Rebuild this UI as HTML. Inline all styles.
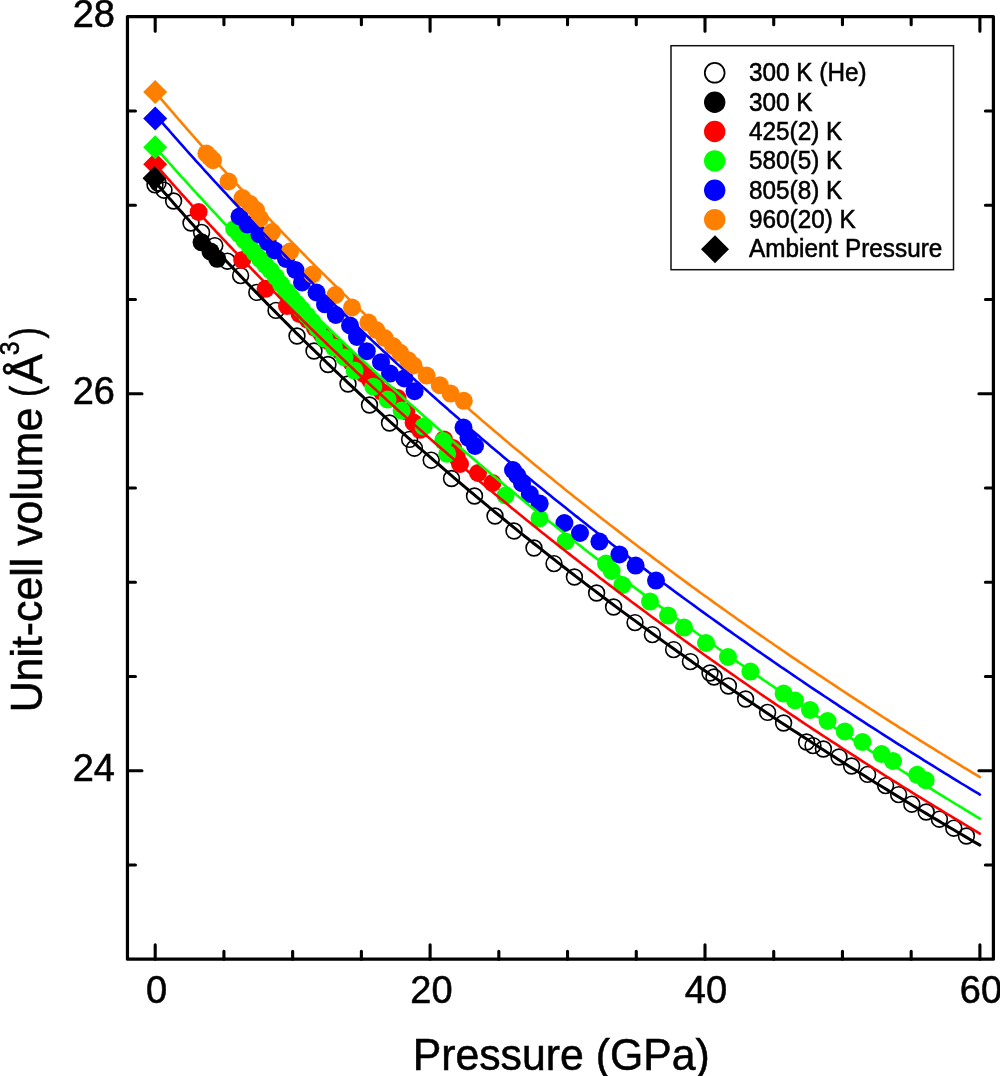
<!DOCTYPE html>
<html><head><meta charset="utf-8"><style>
html,body{margin:0;padding:0;background:#fff;}
svg{display:block;will-change:transform;}
text{font-family:"Liberation Sans",sans-serif;fill:#000;stroke:#000;stroke-width:0.55px;}
</style></head><body>
<svg width="1000" height="1076" viewBox="0 0 1000 1076">
<rect width="1000" height="1076" fill="#fff"/>
<g>
<circle cx="155" cy="184.8" r="7.9" fill="none" stroke="#000" stroke-width="1.6"/>
<circle cx="158" cy="183" r="7.9" fill="none" stroke="#000" stroke-width="1.6"/>
<circle cx="164" cy="190.2" r="7.9" fill="none" stroke="#000" stroke-width="1.6"/>
<circle cx="173.6" cy="201" r="7.9" fill="none" stroke="#000" stroke-width="1.6"/>
<circle cx="191" cy="223" r="7.9" fill="none" stroke="#000" stroke-width="1.6"/>
<circle cx="201.6" cy="232.4" r="7.9" fill="none" stroke="#000" stroke-width="1.6"/>
<circle cx="214.8" cy="245.6" r="7.9" fill="none" stroke="#000" stroke-width="1.6"/>
<circle cx="227.4" cy="261.2" r="7.9" fill="none" stroke="#000" stroke-width="1.6"/>
<circle cx="240.6" cy="275.6" r="7.9" fill="none" stroke="#000" stroke-width="1.6"/>
<circle cx="256.8" cy="292.4" r="7.9" fill="none" stroke="#000" stroke-width="1.6"/>
<circle cx="276" cy="310.4" r="7.9" fill="none" stroke="#000" stroke-width="1.6"/>
<circle cx="297" cy="336" r="7.9" fill="none" stroke="#000" stroke-width="1.6"/>
<circle cx="314" cy="351" r="7.9" fill="none" stroke="#000" stroke-width="1.6"/>
<circle cx="328" cy="364.5" r="7.9" fill="none" stroke="#000" stroke-width="1.6"/>
<circle cx="348" cy="384" r="7.9" fill="none" stroke="#000" stroke-width="1.6"/>
<circle cx="369.5" cy="405" r="7.9" fill="none" stroke="#000" stroke-width="1.6"/>
<circle cx="389.5" cy="423" r="7.9" fill="none" stroke="#000" stroke-width="1.6"/>
<circle cx="409.6" cy="439.4" r="7.9" fill="none" stroke="#000" stroke-width="1.6"/>
<circle cx="414.4" cy="448.2" r="7.9" fill="none" stroke="#000" stroke-width="1.6"/>
<circle cx="431.2" cy="460.2" r="7.9" fill="none" stroke="#000" stroke-width="1.6"/>
<circle cx="451.5" cy="478.5" r="7.9" fill="none" stroke="#000" stroke-width="1.6"/>
<circle cx="474.5" cy="496" r="7.9" fill="none" stroke="#000" stroke-width="1.6"/>
<circle cx="495" cy="516" r="7.9" fill="none" stroke="#000" stroke-width="1.6"/>
<circle cx="514" cy="531" r="7.9" fill="none" stroke="#000" stroke-width="1.6"/>
<circle cx="534" cy="548" r="7.9" fill="none" stroke="#000" stroke-width="1.6"/>
<circle cx="554" cy="563.6" r="7.9" fill="none" stroke="#000" stroke-width="1.6"/>
<circle cx="574.4" cy="577" r="7.9" fill="none" stroke="#000" stroke-width="1.6"/>
<circle cx="596.6" cy="593" r="7.9" fill="none" stroke="#000" stroke-width="1.6"/>
<circle cx="613.6" cy="607" r="7.9" fill="none" stroke="#000" stroke-width="1.6"/>
<circle cx="635" cy="622.6" r="7.9" fill="none" stroke="#000" stroke-width="1.6"/>
<circle cx="652.4" cy="634.6" r="7.9" fill="none" stroke="#000" stroke-width="1.6"/>
<circle cx="673.6" cy="649.6" r="7.9" fill="none" stroke="#000" stroke-width="1.6"/>
<circle cx="690.4" cy="661.6" r="7.9" fill="none" stroke="#000" stroke-width="1.6"/>
<circle cx="710" cy="673" r="7.9" fill="none" stroke="#000" stroke-width="1.6"/>
<circle cx="714" cy="677" r="7.9" fill="none" stroke="#000" stroke-width="1.6"/>
<circle cx="728.4" cy="686" r="7.9" fill="none" stroke="#000" stroke-width="1.6"/>
<circle cx="745.6" cy="699" r="7.9" fill="none" stroke="#000" stroke-width="1.6"/>
<circle cx="767.6" cy="712.4" r="7.9" fill="none" stroke="#000" stroke-width="1.6"/>
<circle cx="783.6" cy="723" r="7.9" fill="none" stroke="#000" stroke-width="1.6"/>
<circle cx="806.6" cy="742" r="7.9" fill="none" stroke="#000" stroke-width="1.6"/>
<circle cx="813" cy="745.6" r="7.9" fill="none" stroke="#000" stroke-width="1.6"/>
<circle cx="823.4" cy="749" r="7.9" fill="none" stroke="#000" stroke-width="1.6"/>
<circle cx="839" cy="757" r="7.9" fill="none" stroke="#000" stroke-width="1.6"/>
<circle cx="851.6" cy="766" r="7.9" fill="none" stroke="#000" stroke-width="1.6"/>
<circle cx="867.6" cy="774.4" r="7.9" fill="none" stroke="#000" stroke-width="1.6"/>
<circle cx="885.6" cy="785.6" r="7.9" fill="none" stroke="#000" stroke-width="1.6"/>
<circle cx="898.6" cy="794.6" r="7.9" fill="none" stroke="#000" stroke-width="1.6"/>
<circle cx="911.8" cy="804.2" r="7.9" fill="none" stroke="#000" stroke-width="1.6"/>
<circle cx="926.2" cy="812" r="7.9" fill="none" stroke="#000" stroke-width="1.6"/>
<circle cx="939.4" cy="819.2" r="7.9" fill="none" stroke="#000" stroke-width="1.6"/>
<circle cx="953.8" cy="828.2" r="7.9" fill="none" stroke="#000" stroke-width="1.6"/>
<circle cx="966.4" cy="836" r="7.9" fill="none" stroke="#000" stroke-width="1.6"/>
<circle cx="201.6" cy="242.3" r="9"/>
<circle cx="210.6" cy="251.6" r="9"/>
<circle cx="217.2" cy="258.8" r="9"/>
<circle cx="198.6" cy="212" r="9" fill="#f00"/>
<circle cx="242.2" cy="260" r="9" fill="#f00"/>
<circle cx="265.6" cy="288.8" r="9" fill="#f00"/>
<circle cx="287" cy="306" r="9" fill="#f00"/>
<circle cx="299.5" cy="314" r="9" fill="#f00"/>
<circle cx="308" cy="320" r="9" fill="#f00"/>
<circle cx="315" cy="328" r="9" fill="#f00"/>
<circle cx="321.5" cy="334" r="9" fill="#f00"/>
<circle cx="328" cy="341" r="9" fill="#f00"/>
<circle cx="334" cy="346" r="9" fill="#f00"/>
<circle cx="340" cy="351" r="9" fill="#f00"/>
<circle cx="346" cy="357" r="9" fill="#f00"/>
<circle cx="351" cy="362" r="9" fill="#f00"/>
<circle cx="358" cy="368" r="9" fill="#f00"/>
<circle cx="364" cy="374" r="9" fill="#f00"/>
<circle cx="370" cy="380" r="9" fill="#f00"/>
<circle cx="376" cy="385" r="9" fill="#f00"/>
<circle cx="382" cy="392" r="9" fill="#f00"/>
<circle cx="390" cy="395" r="9" fill="#f00"/>
<circle cx="397.6" cy="398" r="9" fill="#f00"/>
<circle cx="406.4" cy="411.4" r="9" fill="#f00"/>
<circle cx="413.6" cy="422.6" r="9" fill="#f00"/>
<circle cx="420" cy="429.8" r="9" fill="#f00"/>
<circle cx="444" cy="439.4" r="9" fill="#f00"/>
<circle cx="453" cy="448" r="9" fill="#f00"/>
<circle cx="456.8" cy="457" r="9" fill="#f00"/>
<circle cx="460" cy="464" r="9" fill="#f00"/>
<circle cx="478" cy="473" r="9" fill="#f00"/>
<circle cx="492.5" cy="483" r="9" fill="#f00"/>
<circle cx="234.2" cy="229.0" r="9" fill="#0f0"/>
<circle cx="239.4" cy="234.4" r="9" fill="#0f0"/>
<circle cx="244.6" cy="240.5" r="9" fill="#0f0"/>
<circle cx="249.8" cy="246.8" r="9" fill="#0f0"/>
<circle cx="255.0" cy="253.0" r="9" fill="#0f0"/>
<circle cx="260.2" cy="259.2" r="9" fill="#0f0"/>
<circle cx="265.4" cy="264.8" r="9" fill="#0f0"/>
<circle cx="270.6" cy="270.4" r="9" fill="#0f0"/>
<circle cx="275.8" cy="276.9" r="9" fill="#0f0"/>
<circle cx="281.0" cy="284.1" r="9" fill="#0f0"/>
<circle cx="286.2" cy="291.2" r="9" fill="#0f0"/>
<circle cx="291.4" cy="297.3" r="9" fill="#0f0"/>
<circle cx="296.6" cy="303.4" r="9" fill="#0f0"/>
<circle cx="301.8" cy="309.4" r="9" fill="#0f0"/>
<circle cx="307.0" cy="315.4" r="9" fill="#0f0"/>
<circle cx="312.2" cy="321.6" r="9" fill="#0f0"/>
<circle cx="317.4" cy="328.5" r="9" fill="#0f0"/>
<circle cx="324.4" cy="338.6" r="9" fill="#0f0"/>
<circle cx="334" cy="347.6" r="9" fill="#0f0"/>
<circle cx="344.5" cy="357.5" r="9" fill="#0f0"/>
<circle cx="354.6" cy="370.6" r="9" fill="#0f0"/>
<circle cx="373.3" cy="386.7" r="9" fill="#0f0"/>
<circle cx="387.6" cy="399.6" r="9" fill="#0f0"/>
<circle cx="401.6" cy="410.6" r="9" fill="#0f0"/>
<circle cx="423.6" cy="426.6" r="9" fill="#0f0"/>
<circle cx="443.2" cy="441" r="9" fill="#0f0"/>
<circle cx="447.2" cy="453.8" r="9" fill="#0f0"/>
<circle cx="505.5" cy="495.5" r="9" fill="#0f0"/>
<circle cx="539.5" cy="518.5" r="9" fill="#0f0"/>
<circle cx="565.6" cy="541.4" r="9" fill="#0f0"/>
<circle cx="606" cy="563.6" r="9" fill="#0f0"/>
<circle cx="611.6" cy="571" r="9" fill="#0f0"/>
<circle cx="622.4" cy="585" r="9" fill="#0f0"/>
<circle cx="650" cy="601.6" r="9" fill="#0f0"/>
<circle cx="668" cy="615.6" r="9" fill="#0f0"/>
<circle cx="684" cy="627.6" r="9" fill="#0f0"/>
<circle cx="706" cy="643" r="9" fill="#0f0"/>
<circle cx="728" cy="657" r="9" fill="#0f0"/>
<circle cx="750.4" cy="671.6" r="9" fill="#0f0"/>
<circle cx="783.6" cy="693.6" r="9" fill="#0f0"/>
<circle cx="795" cy="700.4" r="9" fill="#0f0"/>
<circle cx="810" cy="710" r="9" fill="#0f0"/>
<circle cx="827.6" cy="721" r="9" fill="#0f0"/>
<circle cx="844.8" cy="731.4" r="9" fill="#0f0"/>
<circle cx="862.4" cy="742" r="9" fill="#0f0"/>
<circle cx="881.6" cy="754" r="9" fill="#0f0"/>
<circle cx="893" cy="761" r="9" fill="#0f0"/>
<circle cx="917.2" cy="774.8" r="9" fill="#0f0"/>
<circle cx="925.6" cy="780.2" r="9" fill="#0f0"/>
<circle cx="239.5" cy="216.5" r="9" fill="#00f"/>
<circle cx="247.5" cy="224.6" r="9" fill="#00f"/>
<circle cx="259.4" cy="234.4" r="9" fill="#00f"/>
<circle cx="267.8" cy="242.1" r="9" fill="#00f"/>
<circle cx="274.8" cy="250.5" r="9" fill="#00f"/>
<circle cx="286" cy="259" r="9" fill="#00f"/>
<circle cx="295.5" cy="270" r="9" fill="#00f"/>
<circle cx="302" cy="282.5" r="9" fill="#00f"/>
<circle cx="316.5" cy="292.5" r="9" fill="#00f"/>
<circle cx="325" cy="304.3" r="9" fill="#00f"/>
<circle cx="335.8" cy="315" r="9" fill="#00f"/>
<circle cx="350" cy="325.5" r="9" fill="#00f"/>
<circle cx="357" cy="337" r="9" fill="#00f"/>
<circle cx="366.8" cy="351.2" r="9" fill="#00f"/>
<circle cx="381" cy="362.2" r="9" fill="#00f"/>
<circle cx="390" cy="373.6" r="9" fill="#00f"/>
<circle cx="404.4" cy="378.4" r="9" fill="#00f"/>
<circle cx="414.6" cy="391.2" r="9" fill="#00f"/>
<circle cx="463.5" cy="427.5" r="9" fill="#00f"/>
<circle cx="468.5" cy="438" r="9" fill="#00f"/>
<circle cx="475" cy="446" r="9" fill="#00f"/>
<circle cx="513" cy="470" r="9" fill="#00f"/>
<circle cx="517.2" cy="475.4" r="9" fill="#00f"/>
<circle cx="522" cy="483.2" r="9" fill="#00f"/>
<circle cx="529.8" cy="494" r="9" fill="#00f"/>
<circle cx="539.7" cy="503.6" r="9" fill="#00f"/>
<circle cx="564.4" cy="523" r="9" fill="#00f"/>
<circle cx="580" cy="533" r="9" fill="#00f"/>
<circle cx="599.4" cy="541.6" r="9" fill="#00f"/>
<circle cx="619.4" cy="554.4" r="9" fill="#00f"/>
<circle cx="635.6" cy="565.6" r="9" fill="#00f"/>
<circle cx="656" cy="580.6" r="9" fill="#00f"/>
<circle cx="206.4" cy="153.6" r="9" fill="#ff7f00"/>
<circle cx="209.7" cy="156.9" r="9" fill="#ff7f00"/>
<circle cx="213" cy="160.2" r="9" fill="#ff7f00"/>
<circle cx="228.5" cy="181.5" r="9" fill="#ff7f00"/>
<circle cx="242.5" cy="198" r="9" fill="#ff7f00"/>
<circle cx="250" cy="204" r="9" fill="#ff7f00"/>
<circle cx="256" cy="210" r="9" fill="#ff7f00"/>
<circle cx="260" cy="218.5" r="9" fill="#ff7f00"/>
<circle cx="272" cy="232" r="9" fill="#ff7f00"/>
<circle cx="290" cy="251.5" r="9" fill="#ff7f00"/>
<circle cx="312.5" cy="274.5" r="9" fill="#ff7f00"/>
<circle cx="335.5" cy="295" r="9" fill="#ff7f00"/>
<circle cx="352" cy="307.5" r="9" fill="#ff7f00"/>
<circle cx="368.4" cy="322.6" r="9" fill="#ff7f00"/>
<circle cx="376.2" cy="330.0" r="9" fill="#ff7f00"/>
<circle cx="384.6" cy="338.0" r="9" fill="#ff7f00"/>
<circle cx="393" cy="346.0" r="9" fill="#ff7f00"/>
<circle cx="400.2" cy="352.8" r="9" fill="#ff7f00"/>
<circle cx="408" cy="360.2" r="9" fill="#ff7f00"/>
<circle cx="413.4" cy="365.4" r="9" fill="#ff7f00"/>
<circle cx="426.6" cy="375.6" r="9" fill="#ff7f00"/>
<circle cx="439.8" cy="385.2" r="9" fill="#ff7f00"/>
<circle cx="450.6" cy="393.6" r="9" fill="#ff7f00"/>
<circle cx="463.8" cy="400.8" r="9" fill="#ff7f00"/>
<path d="M155.2,152.2L167.2,164.2L155.2,176.2L143.2,164.2Z" fill="#ff0000"/>
<path d="M155.2,135.2L167.2,147.2L155.2,159.2L143.2,147.2Z" fill="#00ff00"/>
<path d="M155.2,106.6L167.2,118.6L155.2,130.6L143.2,118.6Z" fill="#0000ff"/>
<path d="M155.2,80.0L167.2,92.0L155.2,104.0L143.2,92.0Z" fill="#ff7f00"/>
<path d="M154.5,166.2L166.5,178.2L154.5,190.2L142.5,178.2Z" fill="#000000"/>
</g>
<g fill="none" stroke-linejoin="round" stroke-linecap="round">
<path d="M155.2,182.1 L157.2,184.4 L159.3,186.8 L161.3,189.1 L163.4,191.5 L165.4,193.8 L167.5,196.1 L169.5,198.5 L171.6,200.8 L173.7,203.2 L175.7,205.5 L177.8,207.9 L179.9,210.2 L182.0,212.6 L184.1,214.9 L186.2,217.3 L188.3,219.6 L190.4,222.0 L192.5,224.3 L194.7,226.7 L196.8,229.0 L198.9,231.3 L201.1,233.7 L203.2,236.0 L205.3,238.4 L207.5,240.7 L209.7,243.1 L211.8,245.4 L214.0,247.8 L216.2,250.1 L218.3,252.5 L220.5,254.8 L222.7,257.2 L224.9,259.5 L227.1,261.9 L229.3,264.2 L231.5,266.6 L233.7,268.9 L236.0,271.2 L238.2,273.6 L240.4,275.9 L242.7,278.3 L244.9,280.6 L247.1,283.0 L249.4,285.3 L251.7,287.7 L253.9,290.0 L256.2,292.4 L258.5,294.7 L260.8,297.1 L263.0,299.4 L265.3,301.8 L267.6,304.1 L269.9,306.5 L272.2,308.8 L274.6,311.1 L276.9,313.5 L279.2,315.8 L281.5,318.2 L283.9,320.5 L286.2,322.9 L288.6,325.2 L290.9,327.6 L293.3,329.9 L295.6,332.3 L298.0,334.6 L300.4,337.0 L302.8,339.3 L305.2,341.7 L307.5,344.0 L309.9,346.3 L312.4,348.7 L314.8,351.0 L317.2,353.4 L319.6,355.7 L322.0,358.1 L324.5,360.4 L326.9,362.8 L329.4,365.1 L331.8,367.5 L334.3,369.8 L336.7,372.2 L339.2,374.5 L341.7,376.9 L344.2,379.2 L346.7,381.6 L349.1,383.9 L351.6,386.2 L354.2,388.6 L356.7,390.9 L359.2,393.3 L361.7,395.6 L364.2,398.0 L366.8,400.3 L369.3,402.7 L371.9,405.0 L374.4,407.4 L377.0,409.7 L379.6,412.1 L382.1,414.4 L384.7,416.8 L387.3,419.1 L389.9,421.5 L392.5,423.8 L395.1,426.1 L397.7,428.5 L400.3,430.8 L403.0,433.2 L405.6,435.5 L408.2,437.9 L410.9,440.2 L413.5,442.6 L416.2,444.9 L418.8,447.3 L421.5,449.6 L424.2,452.0 L426.9,454.3 L429.6,456.7 L432.3,459.0 L435.0,461.3 L437.7,463.7 L440.4,466.0 L443.1,468.4 L445.8,470.7 L448.6,473.1 L451.3,475.4 L454.1,477.8 L456.8,480.1 L459.6,482.5 L462.4,484.8 L465.1,487.2 L467.9,489.5 L470.7,491.9 L473.5,494.2 L476.3,496.6 L479.1,498.9 L481.9,501.2 L484.8,503.6 L487.6,505.9 L490.4,508.3 L493.3,510.6 L496.1,513.0 L499.0,515.3 L501.9,517.7 L504.7,520.0 L507.6,522.4 L510.5,524.7 L513.4,527.1 L516.3,529.4 L519.2,531.8 L522.1,534.1 L525.0,536.5 L528.0,538.8 L530.9,541.1 L533.8,543.5 L536.8,545.8 L539.8,548.2 L542.7,550.5 L545.7,552.9 L548.7,555.2 L551.7,557.6 L554.7,559.9 L557.7,562.3 L560.7,564.6 L563.7,567.0 L566.7,569.3 L569.7,571.7 L572.8,574.0 L575.8,576.4 L578.9,578.7 L582.0,581.0 L585.0,583.4 L588.1,585.7 L591.2,588.1 L594.3,590.4 L597.4,592.8 L600.5,595.1 L603.6,597.5 L606.7,599.8 L609.9,602.2 L613.0,604.5 L616.1,606.9 L619.3,609.2 L622.5,611.6 L625.6,613.9 L628.8,616.2 L632.0,618.6 L635.2,620.9 L638.4,623.3 L641.6,625.6 L644.8,628.0 L648.0,630.3 L651.3,632.7 L654.5,635.0 L657.8,637.4 L661.0,639.7 L664.3,642.1 L667.6,644.4 L670.8,646.8 L674.1,649.1 L677.4,651.5 L680.7,653.8 L684.0,656.1 L687.4,658.5 L690.7,660.8 L694.0,663.2 L697.4,665.5 L700.7,667.9 L704.1,670.2 L707.5,672.6 L710.9,674.9 L714.2,677.3 L717.6,679.6 L721.0,682.0 L724.5,684.3 L727.9,686.7 L731.3,689.0 L734.8,691.4 L738.2,693.7 L741.7,696.0 L745.1,698.4 L748.6,700.7 L752.1,703.1 L755.6,705.4 L759.1,707.8 L762.6,710.1 L766.1,712.5 L769.6,714.8 L773.2,717.2 L776.7,719.5 L780.3,721.9 L783.8,724.2 L787.4,726.6 L791.0,728.9 L794.6,731.2 L798.2,733.6 L801.8,735.9 L805.4,738.3 L809.0,740.6 L812.6,743.0 L816.3,745.3 L819.9,747.7 L823.6,750.0 L827.3,752.4 L830.9,754.7 L834.6,757.1 L838.3,759.4 L842.0,761.8 L845.7,764.1 L849.5,766.5 L853.2,768.8 L856.9,771.1 L860.7,773.5 L864.5,775.8 L868.2,778.2 L872.0,780.5 L875.8,782.9 L879.6,785.2 L883.4,787.6 L887.2,789.9 L891.1,792.3 L894.9,794.6 L898.8,797.0 L902.6,799.3 L906.5,801.7 L910.4,804.0 L914.2,806.4 L918.1,808.7 L922.0,811.0 L926.0,813.4 L929.9,815.7 L933.8,818.1 L937.8,820.4 L941.7,822.8 L945.7,825.1 L949.7,827.5 L953.7,829.8 L957.7,832.2 L961.7,834.5 L965.7,836.9 L969.7,839.2 L973.7,841.6 L977.8,843.9 L979.9,845.1" stroke="#000000" stroke-width="3.0"/>
<path d="M155.2,164.2 L157.3,166.6 L159.4,169.0 L161.5,171.4 L163.7,173.8 L165.8,176.2 L167.9,178.6 L170.1,181.0 L172.2,183.5 L174.4,185.9 L176.5,188.3 L178.7,190.7 L180.8,193.1 L183.0,195.5 L185.2,197.9 L187.4,200.3 L189.5,202.7 L191.7,205.1 L193.9,207.5 L196.1,209.9 L198.3,212.3 L200.5,214.7 L202.7,217.1 L205.0,219.6 L207.2,222.0 L209.4,224.4 L211.7,226.8 L213.9,229.2 L216.1,231.6 L218.4,234.0 L220.6,236.4 L222.9,238.8 L225.2,241.2 L227.4,243.6 L229.7,246.0 L232.0,248.4 L234.3,250.8 L236.6,253.2 L238.9,255.7 L241.2,258.1 L243.5,260.5 L245.8,262.9 L248.1,265.3 L250.4,267.7 L252.8,270.1 L255.1,272.5 L257.4,274.9 L259.8,277.3 L262.1,279.7 L264.5,282.1 L266.9,284.5 L269.2,286.9 L271.6,289.3 L274.0,291.8 L276.4,294.2 L278.7,296.6 L281.1,299.0 L283.5,301.4 L286.0,303.8 L288.4,306.2 L290.8,308.6 L293.2,311.0 L295.6,313.4 L298.1,315.8 L300.5,318.2 L302.9,320.6 L305.4,323.0 L307.9,325.4 L310.3,327.9 L312.8,330.3 L315.3,332.7 L317.7,335.1 L320.2,337.5 L322.7,339.9 L325.2,342.3 L327.7,344.7 L330.2,347.1 L332.7,349.5 L335.3,351.9 L337.8,354.3 L340.3,356.7 L342.9,359.1 L345.4,361.5 L347.9,364.0 L350.5,366.4 L353.1,368.8 L355.6,371.2 L358.2,373.6 L360.8,376.0 L363.4,378.4 L366.0,380.8 L368.6,383.2 L371.2,385.6 L373.8,388.0 L376.4,390.4 L379.0,392.8 L381.6,395.2 L384.3,397.6 L386.9,400.1 L389.6,402.5 L392.2,404.9 L394.9,407.3 L397.5,409.7 L400.2,412.1 L402.9,414.5 L405.6,416.9 L408.2,419.3 L410.9,421.7 L413.6,424.1 L416.4,426.5 L419.1,428.9 L421.8,431.3 L424.5,433.7 L427.3,436.2 L430.0,438.6 L432.7,441.0 L435.5,443.4 L438.2,445.8 L441.0,448.2 L443.8,450.6 L446.6,453.0 L449.4,455.4 L452.1,457.8 L454.9,460.2 L457.7,462.6 L460.6,465.0 L463.4,467.4 L466.2,469.8 L469.0,472.3 L471.9,474.7 L474.7,477.1 L477.6,479.5 L480.4,481.9 L483.3,484.3 L486.2,486.7 L489.0,489.1 L491.9,491.5 L494.8,493.9 L497.7,496.3 L500.6,498.7 L503.5,501.1 L506.5,503.5 L509.4,505.9 L512.3,508.4 L515.2,510.8 L518.2,513.2 L521.1,515.6 L524.1,518.0 L527.1,520.4 L530.1,522.8 L533.0,525.2 L536.0,527.6 L539.0,530.0 L542.0,532.4 L545.0,534.8 L548.0,537.2 L551.1,539.6 L554.1,542.0 L557.1,544.5 L560.2,546.9 L563.2,549.3 L566.3,551.7 L569.4,554.1 L572.4,556.5 L575.5,558.9 L578.6,561.3 L581.7,563.7 L584.8,566.1 L587.9,568.5 L591.0,570.9 L594.2,573.3 L597.3,575.7 L600.4,578.2 L603.6,580.6 L606.7,583.0 L609.9,585.4 L613.1,587.8 L616.2,590.2 L619.4,592.6 L622.6,595.0 L625.8,597.4 L629.0,599.8 L632.2,602.2 L635.5,604.6 L638.7,607.0 L641.9,609.4 L645.2,611.8 L648.4,614.3 L651.7,616.7 L655.0,619.1 L658.2,621.5 L661.5,623.9 L664.8,626.3 L668.1,628.7 L671.4,631.1 L674.7,633.5 L678.0,635.9 L681.4,638.3 L684.7,640.7 L688.1,643.1 L691.4,645.5 L694.8,647.9 L698.2,650.4 L701.5,652.8 L704.9,655.2 L708.3,657.6 L711.7,660.0 L715.1,662.4 L718.5,664.8 L722.0,667.2 L725.4,669.6 L728.9,672.0 L732.3,674.4 L735.8,676.8 L739.2,679.2 L742.7,681.6 L746.2,684.0 L749.7,686.5 L753.2,688.9 L756.7,691.3 L760.2,693.7 L763.7,696.1 L767.3,698.5 L770.8,700.9 L774.4,703.3 L777.9,705.7 L781.5,708.1 L785.1,710.5 L788.7,712.9 L792.3,715.3 L795.9,717.7 L799.5,720.1 L803.1,722.6 L806.7,725.0 L810.4,727.4 L814.0,729.8 L817.7,732.2 L821.3,734.6 L825.0,737.0 L828.7,739.4 L832.4,741.8 L836.1,744.2 L839.8,746.6 L843.5,749.0 L847.2,751.4 L851.0,753.8 L854.7,756.2 L858.5,758.7 L862.2,761.1 L866.0,763.5 L869.8,765.9 L873.6,768.3 L877.4,770.7 L881.2,773.1 L885.0,775.5 L888.8,777.9 L892.6,780.3 L896.5,782.7 L900.3,785.1 L904.2,787.5 L908.1,789.9 L912.0,792.3 L915.8,794.8 L919.7,797.2 L923.7,799.6 L927.6,802.0 L931.5,804.4 L935.4,806.8 L939.4,809.2 L943.3,811.6 L947.3,814.0 L951.3,816.4 L955.3,818.8 L959.3,821.2 L963.3,823.6 L967.3,826.0 L971.3,828.4 L975.3,830.9 L979.4,833.3 L979.9,833.6" stroke="#ff0000" stroke-width="2.6"/>
<path d="M155.2,147.2 L157.4,149.7 L159.5,152.1 L161.7,154.6 L163.9,157.1 L166.1,159.5 L168.3,162.0 L170.5,164.4 L172.7,166.9 L174.9,169.4 L177.1,171.8 L179.3,174.3 L181.5,176.8 L183.8,179.2 L186.0,181.7 L188.2,184.2 L190.5,186.6 L192.7,189.1 L195.0,191.5 L197.2,194.0 L199.5,196.5 L201.8,198.9 L204.0,201.4 L206.3,203.9 L208.6,206.3 L210.9,208.8 L213.2,211.3 L215.5,213.7 L217.8,216.2 L220.1,218.6 L222.4,221.1 L224.7,223.6 L227.1,226.0 L229.4,228.5 L231.7,231.0 L234.1,233.4 L236.4,235.9 L238.8,238.4 L241.1,240.8 L243.5,243.3 L245.9,245.7 L248.2,248.2 L250.6,250.7 L253.0,253.1 L255.4,255.6 L257.8,258.1 L260.2,260.5 L262.6,263.0 L265.0,265.5 L267.5,267.9 L269.9,270.4 L272.3,272.8 L274.7,275.3 L277.2,277.8 L279.6,280.2 L282.1,282.7 L284.6,285.2 L287.0,287.6 L289.5,290.1 L292.0,292.5 L294.5,295.0 L296.9,297.5 L299.4,299.9 L301.9,302.4 L304.4,304.9 L307.0,307.3 L309.5,309.8 L312.0,312.3 L314.5,314.7 L317.1,317.2 L319.6,319.6 L322.2,322.1 L324.7,324.6 L327.3,327.0 L329.8,329.5 L332.4,332.0 L335.0,334.4 L337.6,336.9 L340.1,339.4 L342.7,341.8 L345.3,344.3 L348.0,346.7 L350.6,349.2 L353.2,351.7 L355.8,354.1 L358.4,356.6 L361.1,359.1 L363.7,361.5 L366.4,364.0 L369.0,366.5 L371.7,368.9 L374.4,371.4 L377.0,373.8 L379.7,376.3 L382.4,378.8 L385.1,381.2 L387.8,383.7 L390.5,386.2 L393.2,388.6 L395.9,391.1 L398.7,393.6 L401.4,396.0 L404.1,398.5 L406.9,400.9 L409.6,403.4 L412.4,405.9 L415.2,408.3 L417.9,410.8 L420.7,413.3 L423.5,415.7 L426.3,418.2 L429.1,420.7 L431.9,423.1 L434.7,425.6 L437.5,428.0 L440.3,430.5 L443.2,433.0 L446.0,435.4 L448.8,437.9 L451.7,440.4 L454.5,442.8 L457.4,445.3 L460.3,447.8 L463.1,450.2 L466.0,452.7 L468.9,455.1 L471.8,457.6 L474.7,460.1 L477.6,462.5 L480.5,465.0 L483.5,467.5 L486.4,469.9 L489.3,472.4 L492.3,474.9 L495.2,477.3 L498.2,479.8 L501.2,482.2 L504.1,484.7 L507.1,487.2 L510.1,489.6 L513.1,492.1 L516.1,494.6 L519.1,497.0 L522.1,499.5 L525.1,502.0 L528.2,504.4 L531.2,506.9 L534.2,509.3 L537.3,511.8 L540.3,514.3 L543.4,516.7 L546.5,519.2 L549.6,521.7 L552.6,524.1 L555.7,526.6 L558.8,529.0 L562.0,531.5 L565.1,534.0 L568.2,536.4 L571.3,538.9 L574.5,541.4 L577.6,543.8 L580.8,546.3 L583.9,548.8 L587.1,551.2 L590.3,553.7 L593.4,556.1 L596.6,558.6 L599.8,561.1 L603.0,563.5 L606.3,566.0 L609.5,568.5 L612.7,570.9 L615.9,573.4 L619.2,575.9 L622.4,578.3 L625.7,580.8 L629.0,583.2 L632.2,585.7 L635.5,588.2 L638.8,590.6 L642.1,593.1 L645.4,595.6 L648.7,598.0 L652.0,600.5 L655.4,603.0 L658.7,605.4 L662.1,607.9 L665.4,610.3 L668.8,612.8 L672.1,615.3 L675.5,617.7 L678.9,620.2 L682.3,622.7 L685.7,625.1 L689.1,627.6 L692.5,630.1 L695.9,632.5 L699.4,635.0 L702.8,637.4 L706.3,639.9 L709.7,642.4 L713.2,644.8 L716.7,647.3 L720.2,649.8 L723.6,652.2 L727.1,654.7 L730.7,657.2 L734.2,659.6 L737.7,662.1 L741.2,664.5 L744.8,667.0 L748.3,669.5 L751.9,671.9 L755.4,674.4 L759.0,676.9 L762.6,679.3 L766.2,681.8 L769.8,684.3 L773.4,686.7 L777.0,689.2 L780.7,691.6 L784.3,694.1 L787.9,696.6 L791.6,699.0 L795.3,701.5 L798.9,704.0 L802.6,706.4 L806.3,708.9 L810.0,711.4 L813.7,713.8 L817.4,716.3 L821.1,718.7 L824.9,721.2 L828.6,723.7 L832.4,726.1 L836.1,728.6 L839.9,731.1 L843.7,733.5 L847.5,736.0 L851.3,738.5 L855.1,740.9 L858.9,743.4 L862.7,745.8 L866.5,748.3 L870.4,750.8 L874.2,753.2 L878.1,755.7 L882.0,758.2 L885.8,760.6 L889.7,763.1 L893.6,765.5 L897.5,768.0 L901.5,770.5 L905.4,772.9 L909.3,775.4 L913.3,777.9 L917.2,780.3 L921.2,782.8 L925.2,785.3 L929.1,787.7 L933.1,790.2 L937.1,792.6 L941.2,795.1 L945.2,797.6 L949.2,800.0 L953.2,802.5 L957.3,805.0 L961.4,807.4 L965.4,809.9 L969.5,812.4 L973.6,814.8 L977.7,817.3 L979.9,818.6" stroke="#00ff00" stroke-width="2.6"/>
<path d="M155.2,114.5 L157.4,117.0 L159.6,119.6 L161.9,122.2 L164.1,124.8 L166.3,127.3 L168.6,129.9 L170.8,132.5 L173.1,135.1 L175.3,137.6 L177.6,140.2 L179.9,142.8 L182.2,145.4 L184.4,147.9 L186.7,150.5 L189.0,153.1 L191.3,155.6 L193.6,158.2 L195.9,160.8 L198.3,163.4 L200.6,165.9 L202.9,168.5 L205.2,171.1 L207.6,173.7 L209.9,176.2 L212.3,178.8 L214.6,181.4 L217.0,183.9 L219.4,186.5 L221.7,189.1 L224.1,191.7 L226.5,194.2 L228.9,196.8 L231.3,199.4 L233.7,202.0 L236.1,204.5 L238.5,207.1 L240.9,209.7 L243.4,212.2 L245.8,214.8 L248.2,217.4 L250.7,220.0 L253.1,222.5 L255.6,225.1 L258.0,227.7 L260.5,230.3 L263.0,232.8 L265.4,235.4 L267.9,238.0 L270.4,240.6 L272.9,243.1 L275.4,245.7 L277.9,248.3 L280.5,250.8 L283.0,253.4 L285.5,256.0 L288.0,258.6 L290.6,261.1 L293.1,263.7 L295.7,266.3 L298.2,268.9 L300.8,271.4 L303.4,274.0 L306.0,276.6 L308.5,279.1 L311.1,281.7 L313.7,284.3 L316.3,286.9 L318.9,289.4 L321.6,292.0 L324.2,294.6 L326.8,297.2 L329.4,299.7 L332.1,302.3 L334.7,304.9 L337.4,307.4 L340.1,310.0 L342.7,312.6 L345.4,315.2 L348.1,317.7 L350.8,320.3 L353.5,322.9 L356.2,325.5 L358.9,328.0 L361.6,330.6 L364.3,333.2 L367.0,335.8 L369.8,338.3 L372.5,340.9 L375.3,343.5 L378.0,346.0 L380.8,348.6 L383.5,351.2 L386.3,353.8 L389.1,356.3 L391.9,358.9 L394.7,361.5 L397.5,364.1 L400.3,366.6 L403.1,369.2 L405.9,371.8 L408.8,374.3 L411.6,376.9 L414.5,379.5 L417.3,382.1 L420.2,384.6 L423.0,387.2 L425.9,389.8 L428.8,392.4 L431.7,394.9 L434.6,397.5 L437.5,400.1 L440.4,402.7 L443.3,405.2 L446.2,407.8 L449.1,410.4 L452.1,412.9 L455.0,415.5 L458.0,418.1 L460.9,420.7 L463.9,423.2 L466.9,425.8 L469.9,428.4 L472.8,431.0 L475.8,433.5 L478.8,436.1 L481.8,438.7 L484.9,441.2 L487.9,443.8 L490.9,446.4 L494.0,449.0 L497.0,451.5 L500.1,454.1 L503.1,456.7 L506.2,459.3 L509.3,461.8 L512.4,464.4 L515.5,467.0 L518.6,469.5 L521.7,472.1 L524.8,474.7 L527.9,477.3 L531.0,479.8 L534.2,482.4 L537.3,485.0 L540.5,487.6 L543.6,490.1 L546.8,492.7 L550.0,495.3 L553.2,497.9 L556.4,500.4 L559.6,503.0 L562.8,505.6 L566.0,508.1 L569.2,510.7 L572.5,513.3 L575.7,515.9 L579.0,518.4 L582.2,521.0 L585.5,523.6 L588.8,526.2 L592.1,528.7 L595.3,531.3 L598.6,533.9 L602.0,536.4 L605.3,539.0 L608.6,541.6 L611.9,544.2 L615.3,546.7 L618.6,549.3 L622.0,551.9 L625.3,554.5 L628.7,557.0 L632.1,559.6 L635.5,562.2 L638.9,564.7 L642.3,567.3 L645.7,569.9 L649.1,572.5 L652.6,575.0 L656.0,577.6 L659.5,580.2 L662.9,582.8 L666.4,585.3 L669.9,587.9 L673.4,590.5 L676.9,593.1 L680.4,595.6 L683.9,598.2 L687.4,600.8 L690.9,603.3 L694.5,605.9 L698.0,608.5 L701.6,611.1 L705.1,613.6 L708.7,616.2 L712.3,618.8 L715.9,621.4 L719.5,623.9 L723.1,626.5 L726.7,629.1 L730.4,631.6 L734.0,634.2 L737.6,636.8 L741.3,639.4 L745.0,641.9 L748.6,644.5 L752.3,647.1 L756.0,649.7 L759.7,652.2 L763.4,654.8 L767.2,657.4 L770.9,659.9 L774.6,662.5 L778.4,665.1 L782.1,667.7 L785.9,670.2 L789.7,672.8 L793.5,675.4 L797.3,678.0 L801.1,680.5 L804.9,683.1 L808.7,685.7 L812.6,688.3 L816.4,690.8 L820.3,693.4 L824.1,696.0 L828.0,698.5 L831.9,701.1 L835.8,703.7 L839.7,706.3 L843.6,708.8 L847.5,711.4 L851.5,714.0 L855.4,716.6 L859.3,719.1 L863.3,721.7 L867.3,724.3 L871.3,726.8 L875.3,729.4 L879.3,732.0 L883.3,734.6 L887.3,737.1 L891.3,739.7 L895.4,742.3 L899.4,744.9 L903.5,747.4 L907.6,750.0 L911.7,752.6 L915.8,755.2 L919.9,757.7 L924.0,760.3 L928.1,762.9 L932.3,765.4 L936.4,768.0 L940.6,770.6 L944.7,773.2 L948.9,775.7 L953.1,778.3 L957.3,780.9 L961.5,783.5 L965.8,786.0 L970.0,788.6 L974.2,791.2 L978.5,793.7 L979.9,794.6" stroke="#0000ff" stroke-width="2.6"/>
<path d="M155.2,92.0 L157.4,94.6 L159.7,97.3 L161.9,99.9 L164.2,102.6 L166.5,105.2 L168.7,107.9 L171.0,110.5 L173.3,113.2 L175.6,115.8 L177.9,118.5 L180.2,121.1 L182.5,123.8 L184.8,126.4 L187.1,129.1 L189.4,131.7 L191.8,134.4 L194.1,137.0 L196.4,139.7 L198.8,142.3 L201.1,145.0 L203.5,147.6 L205.9,150.3 L208.2,152.9 L210.6,155.6 L213.0,158.2 L215.4,160.9 L217.8,163.5 L220.2,166.1 L222.6,168.8 L225.0,171.4 L227.4,174.1 L229.8,176.7 L232.3,179.4 L234.7,182.0 L237.2,184.7 L239.6,187.3 L242.1,190.0 L244.5,192.6 L247.0,195.3 L249.5,197.9 L252.0,200.6 L254.5,203.2 L257.0,205.9 L259.5,208.5 L262.0,211.2 L264.5,213.8 L267.0,216.5 L269.5,219.1 L272.1,221.8 L274.6,224.4 L277.2,227.1 L279.7,229.7 L282.3,232.4 L284.8,235.0 L287.4,237.6 L290.0,240.3 L292.6,242.9 L295.2,245.6 L297.8,248.2 L300.4,250.9 L303.0,253.5 L305.6,256.2 L308.2,258.8 L310.9,261.5 L313.5,264.1 L316.2,266.8 L318.8,269.4 L321.5,272.1 L324.1,274.7 L326.8,277.4 L329.5,280.0 L332.2,282.7 L334.9,285.3 L337.6,288.0 L340.3,290.6 L343.0,293.3 L345.7,295.9 L348.5,298.6 L351.2,301.2 L354.0,303.9 L356.7,306.5 L359.5,309.1 L362.2,311.8 L365.0,314.4 L367.8,317.1 L370.6,319.7 L373.4,322.4 L376.2,325.0 L379.0,327.7 L381.8,330.3 L384.6,333.0 L387.4,335.6 L390.3,338.3 L393.1,340.9 L396.0,343.6 L398.8,346.2 L401.7,348.9 L404.6,351.5 L407.5,354.2 L410.4,356.8 L413.3,359.5 L416.2,362.1 L419.1,364.8 L422.0,367.4 L424.9,370.1 L427.9,372.7 L430.8,375.4 L433.8,378.0 L436.7,380.6 L439.7,383.3 L442.7,385.9 L445.6,388.6 L448.6,391.2 L451.6,393.9 L454.6,396.5 L457.6,399.2 L460.7,401.8 L463.7,404.5 L466.7,407.1 L469.8,409.8 L472.8,412.4 L475.9,415.1 L479.0,417.7 L482.0,420.4 L485.1,423.0 L488.2,425.7 L491.3,428.3 L494.4,431.0 L497.5,433.6 L500.7,436.3 L503.8,438.9 L506.9,441.6 L510.1,444.2 L513.2,446.9 L516.4,449.5 L519.6,452.1 L522.8,454.8 L526.0,457.4 L529.1,460.1 L532.4,462.7 L535.6,465.4 L538.8,468.0 L542.0,470.7 L545.3,473.3 L548.5,476.0 L551.8,478.6 L555.0,481.3 L558.3,483.9 L561.6,486.6 L564.9,489.2 L568.2,491.9 L571.5,494.5 L574.8,497.2 L578.1,499.8 L581.5,502.5 L584.8,505.1 L588.2,507.8 L591.5,510.4 L594.9,513.1 L598.3,515.7 L601.7,518.4 L605.1,521.0 L608.5,523.7 L611.9,526.3 L615.3,528.9 L618.8,531.6 L622.2,534.2 L625.6,536.9 L629.1,539.5 L632.6,542.2 L636.0,544.8 L639.5,547.5 L643.0,550.1 L646.5,552.8 L650.1,555.4 L653.6,558.1 L657.1,560.7 L660.7,563.4 L664.2,566.0 L667.8,568.7 L671.3,571.3 L674.9,574.0 L678.5,576.6 L682.1,579.3 L685.7,581.9 L689.3,584.6 L693.0,587.2 L696.6,589.9 L700.2,592.5 L703.9,595.2 L707.6,597.8 L711.2,600.4 L714.9,603.1 L718.6,605.7 L722.3,608.4 L726.0,611.0 L729.8,613.7 L733.5,616.3 L737.2,619.0 L741.0,621.6 L744.8,624.3 L748.5,626.9 L752.3,629.6 L756.1,632.2 L759.9,634.9 L763.7,637.5 L767.6,640.2 L771.4,642.8 L775.2,645.5 L779.1,648.1 L783.0,650.8 L786.8,653.4 L790.7,656.1 L794.6,658.7 L798.5,661.4 L802.4,664.0 L806.4,666.7 L810.3,669.3 L814.3,671.9 L818.2,674.6 L822.2,677.2 L826.2,679.9 L830.2,682.5 L834.2,685.2 L838.2,687.8 L842.2,690.5 L846.2,693.1 L850.3,695.8 L854.3,698.4 L858.4,701.1 L862.5,703.7 L866.6,706.4 L870.6,709.0 L874.8,711.7 L878.9,714.3 L883.0,717.0 L887.2,719.6 L891.3,722.3 L895.5,724.9 L899.6,727.6 L903.8,730.2 L908.0,732.9 L912.2,735.5 L916.5,738.2 L920.7,740.8 L924.9,743.4 L929.2,746.1 L933.5,748.7 L937.7,751.4 L942.0,754.0 L946.3,756.7 L950.6,759.3 L955.0,762.0 L959.3,764.6 L963.6,767.3 L968.0,769.9 L972.4,772.6 L976.7,775.2 L979.9,777.1" stroke="#ff7f00" stroke-width="2.6"/>
</g>
<rect x="127.45" y="16.7" width="865.95" height="942.50" fill="none" stroke="#000" stroke-width="3.2" stroke-linejoin="round"/>
<path d="M155.20,959.20V944.70M155.20,16.70V31.20M223.93,959.20V951.20M223.93,16.70V24.70M292.65,959.20V951.20M292.65,16.70V24.70M361.38,959.20V951.20M361.38,16.70V24.70M430.10,959.20V944.70M430.10,16.70V31.20M498.82,959.20V951.20M498.82,16.70V24.70M567.55,959.20V951.20M567.55,16.70V24.70M636.28,959.20V951.20M636.28,16.70V24.70M705.00,959.20V944.70M705.00,16.70V31.20M773.73,959.20V951.20M773.73,16.70V24.70M842.45,959.20V951.20M842.45,16.70V24.70M911.17,959.20V951.20M911.17,16.70V24.70M979.90,959.20V944.70M979.90,16.70V31.20M127.45,864.95H135.45M993.40,864.95H985.40M127.45,770.70H141.95M993.40,770.70H978.90M127.45,676.45H135.45M993.40,676.45H985.40M127.45,582.20H135.45M993.40,582.20H985.40M127.45,487.95H135.45M993.40,487.95H985.40M127.45,393.70H141.95M993.40,393.70H978.90M127.45,299.45H135.45M993.40,299.45H985.40M127.45,205.20H135.45M993.40,205.20H985.40M127.45,110.95H135.45M993.40,110.95H985.40" stroke="#000" stroke-width="3.1" stroke-linecap="round" fill="none"/>
<g font-size="38">
<text x="115" y="26.8" text-anchor="end">28</text>
<text x="115" y="403.8" text-anchor="end">26</text>
<text x="115" y="780.8" text-anchor="end">24</text>
<text x="156.5" y="1003.3" text-anchor="middle">0</text>
<text x="431.5" y="1003.3" text-anchor="middle">20</text>
<text x="706" y="1003.3" text-anchor="middle">40</text>
<text x="981" y="1003.3" text-anchor="middle">60</text>
</g>
<text x="412.7" y="1070.4" font-size="45" textLength="297" lengthAdjust="spacingAndGlyphs">Pressure (GPa)</text>
<g font-size="45">
<text id="yl1" transform="translate(42.2,709.3) rotate(-90)" x="-3" y="0" textLength="304.5" lengthAdjust="spacingAndGlyphs">Unit-cell volume</text>
<text id="yl1b" transform="translate(39.6,394.7) rotate(-90) scale(0.8,1)" x="-3" y="0" font-size="42.5">(</text>
<text id="yl2" transform="translate(42.2,383.9) rotate(-90)" x="0" y="0">Å</text>
<text id="yl3" transform="translate(18.8,355.2) rotate(-90) scale(0.92,1)" x="0" y="0" font-size="27">3</text>
<text id="yl4" transform="translate(39.6,338.6) rotate(-90) scale(0.8,1)" x="0" y="0" font-size="42.5">)</text>
</g>
<rect x="671" y="45.7" width="282.5" height="224" fill="#fff" stroke="#111" stroke-width="1.5"/>
<circle cx="714.7" cy="72.8" r="9.9" fill="#fff" stroke="#000" stroke-width="1.75"/>
<circle cx="714.7" cy="102.2" r="10.7"/>
<circle cx="714.7" cy="131.5" r="10.7" fill="#f00"/>
<circle cx="714.7" cy="160.9" r="10.7" fill="#0f0"/>
<circle cx="714.7" cy="190.3" r="10.7" fill="#00f"/>
<circle cx="714.7" cy="219.6" r="10.7" fill="#ff7f00"/>
<path d="M715,235.2L729,249.2L715,263.2L701,249.2Z"/>
<g font-size="25" transform="translate(749.5 0) scale(0.973 1) translate(-749.5 0)">
<text x="749" y="81.3">300 K (He)</text>
<text x="749" y="110.7">300 K</text>
<text x="749" y="140">425(2) K</text>
<text x="749" y="169.4">580(5) K</text>
<text x="749" y="198.8">805(8) K</text>
<text x="749" y="228.1">960(20) K</text>
<text x="749" y="257.5">Ambient Pressure</text>
</g>
</svg></body></html>
